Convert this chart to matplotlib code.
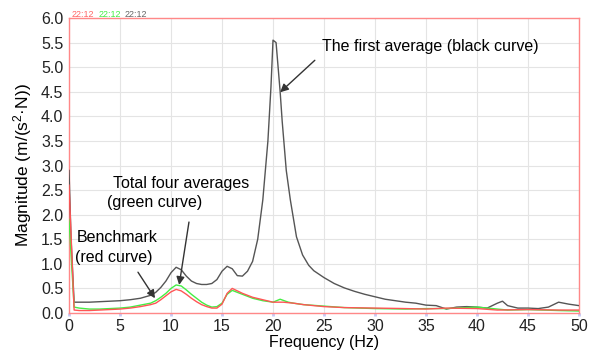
import matplotlib
matplotlib.use("Agg")
import matplotlib.pyplot as plt

plt.rcParams['font.family'] = ['Liberation Sans', 'DejaVu Sans']
plt.rcParams['mathtext.fontset'] = 'custom'
plt.rcParams['mathtext.rm'] = 'Liberation Sans'
plt.rcParams['mathtext.it'] = 'Liberation Sans'

black_f = [0, 0.2, 0.5, 1, 2, 3, 4, 5, 6, 7, 8, 8.5, 9, 9.5, 10, 10.5, 11, 11.5, 12, 12.5, 13, 13.5, 14, 14.5,
           15, 15.5, 16, 16.5, 17, 17.5, 18, 18.5, 19, 19.5, 19.8, 20.0, 20.3, 20.5, 20.7, 20.9, 21.3, 21.7,
           22.3, 22.9, 23.5, 24, 25, 26, 27, 28, 29, 30, 31, 32, 33, 34, 35, 36, 37, 38, 39, 40, 41, 42, 42.5,
           43, 44, 45, 46, 47, 48, 49, 50]
black_m = [2.9, 1.5, 0.22, 0.22, 0.22, 0.23, 0.24, 0.25, 0.27, 0.3, 0.36, 0.42, 0.52, 0.65, 0.82, 0.93, 0.88,
           0.75, 0.65, 0.6, 0.58, 0.58, 0.6, 0.68, 0.85, 0.95, 0.9, 0.76, 0.75, 0.85, 1.05, 1.5, 2.3, 3.5, 4.6,
           5.55, 5.5, 5.0, 4.5, 3.9, 2.9, 2.3, 1.55, 1.18, 0.97, 0.86, 0.72, 0.6, 0.51, 0.44, 0.38, 0.33, 0.28,
           0.25, 0.22, 0.2, 0.16, 0.15, 0.08, 0.12, 0.13, 0.12, 0.1, 0.2, 0.24, 0.15, 0.1, 0.1, 0.09, 0.12,
           0.22, 0.18, 0.15]

red_f = [0, 0.5, 1, 2, 3, 4, 5, 6, 7, 8, 8.5, 9, 9.5, 10, 10.5, 11, 11.5, 12, 12.5, 13, 13.5, 14, 14.5, 15,
         15.5, 16, 16.5, 17, 18, 19, 20, 21, 22, 23, 25, 27, 30, 33, 35, 37, 40, 42, 45, 48, 50]
red_m = [2.6, 0.06, 0.05, 0.05, 0.06, 0.07, 0.08, 0.1, 0.13, 0.17, 0.2, 0.27, 0.35, 0.43, 0.48, 0.45, 0.38,
         0.3, 0.23, 0.17, 0.13, 0.1, 0.1, 0.18, 0.4, 0.5, 0.45, 0.4, 0.32, 0.27, 0.22, 0.22, 0.2, 0.17, 0.13,
         0.11, 0.1, 0.09, 0.08, 0.1, 0.09, 0.06, 0.07, 0.06, 0.06]

green_f = [0, 0.5, 1, 2, 3, 4, 5, 6, 7, 8, 8.5, 9, 9.5, 10, 10.5, 11, 11.5, 12, 12.5, 13, 13.5, 14, 14.5, 15,
           15.5, 16, 16.5, 17, 18, 19, 20, 20.7, 21.5, 22, 23, 25, 27, 30, 33, 35, 37, 40, 41, 43, 45, 48, 50]
green_m = [1.9, 0.12, 0.1, 0.08, 0.08, 0.09, 0.1, 0.12, 0.16, 0.2, 0.25, 0.32, 0.4, 0.5, 0.57, 0.55, 0.47,
           0.38, 0.3, 0.22, 0.16, 0.12, 0.13, 0.2, 0.38, 0.46, 0.42, 0.38, 0.3, 0.25, 0.22, 0.28, 0.22, 0.2,
           0.17, 0.14, 0.11, 0.09, 0.08, 0.09, 0.09, 0.12, 0.1, 0.06, 0.07, 0.05, 0.04]

xticks = list(range(0, 51, 5))
yticks = [i * 0.5 for i in range(13)]

fig = plt.figure(figsize=(5.92, 3.58), dpi=100)
ax = fig.add_axes([0.1166, 0.1257, 0.8614, 0.824])

ax.plot(black_f, black_m, color='#555555', lw=1.0, zorder=3)
ax.plot(green_f, green_m, color='#44ee44', lw=1.0, zorder=4)
ax.plot(red_f, red_m, color='#ff5555', lw=1.0, zorder=5)

ax.set_xlim(0, 50)
ax.set_ylim(0, 6.0)
ax.set_xticks(xticks)
ax.set_yticks(yticks)
ax.set_yticklabels([f"{v:.1f}" for v in yticks])
ax.grid(True, color='#e4e4e4', lw=0.8)
ax.set_axisbelow(True)
for s in ax.spines.values():
    s.set_color('#ff8888')
    s.set_linewidth(1.0)
ax.tick_params(axis='y', length=0, labelsize=11.5, colors='#222222', pad=4)
ax.tick_params(axis='x', length=2, width=2, color='#c8c8f4', labelsize=11.5, labelcolor='#222222', pad=2)
ax.set_xlabel('Frequency (Hz)', fontsize=11.5, labelpad=1)
ax.set_ylabel('Magnitude (m/(s$^{2}$·N))', fontsize=12.5, labelpad=5)

fig.text(0.121, 0.953, '22:12', color='#ff6666', fontsize=6.5)
fig.text(0.166, 0.953, '22:12', color='#44ee44', fontsize=6.5)
fig.text(0.211, 0.953, '22:12', color='#666666', fontsize=6.5)

ap = dict(arrowstyle='-|>', color='#333333', lw=1.0, mutation_scale=12, shrinkA=0, shrinkB=0)
fs = 11.5
ax.text(24.8, 5.42, 'The first average (black curve)', fontsize=fs, ha='left', va='center')
ax.annotate('', xy=(20.7, 4.49), xytext=(24.1, 5.14), arrowprops=ap)

ax.text(4.3, 2.64, 'Total four averages', fontsize=fs, ha='left', va='center')
ax.text(3.7, 2.25, '(green curve)', fontsize=fs, ha='left', va='center')
ax.annotate('', xy=(10.8, 0.57), xytext=(11.76, 1.85), arrowprops=ap)

ax.text(0.75, 1.53, 'Benchmark', fontsize=fs, ha='left', va='center')
ax.text(0.55, 1.12, '(red curve)', fontsize=fs, ha='left', va='center')
ax.annotate('', xy=(8.43, 0.30), xytext=(6.76, 0.83), arrowprops=ap)

fig.savefig('out.png', dpi=100)
